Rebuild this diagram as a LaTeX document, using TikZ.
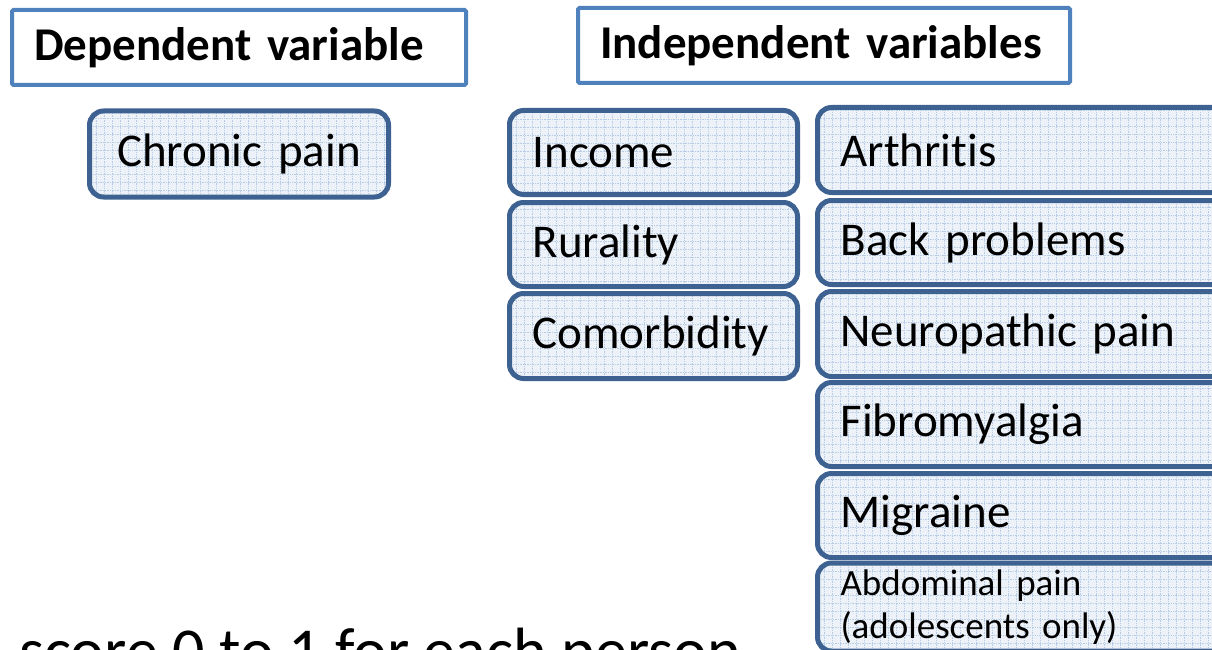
\documentclass[tikz,border=0pt]{standalone}
\usepackage{fontspec}
\setmainfont{Carlito}[Ligatures={NoCommon}]
\usepackage{tikz}
\usepackage{xcolor}
\definecolor{headblue}{HTML}{4F81BD}
\definecolor{boxblue}{HTML}{3D6291}
\definecolor{boxfill}{HTML}{EDF2F8}
\definecolor{gridblue}{HTML}{B9CCE6}
\tikzset{
  headbox/.style={draw=headblue, line width=4pt, rounded corners=1.5pt, fill=white,
    inner sep=0pt, inner xsep=22pt, align=left, font=\bfseries\fontsize{47}{56}\selectfont},
  varbox/.style={draw=boxblue, line width=5pt, rounded corners=14pt, fill=boxfill,
    inner sep=0pt, inner xsep=23pt, align=left, font=\fontsize{47}{56}\selectfont,
    path picture={\draw[gridblue, line width=0.7pt, densely dotted]
      (path picture bounding box.south west) grid[step=8pt] (path picture bounding box.north east);}},
}

\begin{document}
\begin{tikzpicture}[x=1pt, y=-1pt]
  \path[use as bounding box, clip] (0,0) rectangle (1212,650);
  % headings
  \node[headbox, minimum width=454pt, minimum height=75pt, text width=410pt] (dephead) at (239,47.5) {Dependent variable};
  \node[headbox, minimum width=492pt, minimum height=75pt, text width=448pt] (indhead) at (824,45.5) {Independent variables};
  % dependent variable
  \node[varbox, minimum width=299pt, minimum height=86pt, text width=253pt, align=center] (chronic) at (239,154) {Chronic pain};
  % independent variables, first column
  \node[varbox, minimum width=288pt, minimum height=84pt, text width=242pt] (income) at (653.5,152.5) {Income};
  \node[varbox, minimum width=288pt, minimum height=84pt, text width=242pt] (rural) at (653.5,244.5) {Rurality};
  \node[varbox, minimum width=288pt, minimum height=85pt, text width=242pt] (comorb) at (653.5,336) {Comorbidity};
  % independent variables, second column
  \node[varbox, minimum width=410pt, minimum height=85pt, text width=364pt] (arthritis) at (1022.5,150) {Arthritis};
  \node[varbox, minimum width=410pt, minimum height=84pt, text width=364pt] (back) at (1022.5,242.5) {Back problems};
  \node[varbox, minimum width=410pt, minimum height=85pt, text width=364pt] (neuro) at (1022.5,334) {Neuropathic pain};
  \node[varbox, minimum width=410pt, minimum height=84pt, text width=364pt] (fibro) at (1022.5,424.5) {Fibromyalgia};
  \node[varbox, minimum width=410pt, minimum height=84pt, text width=364pt] (migraine) at (1022.5,515.5) {Migraine};
  \node[varbox, minimum width=410pt, minimum height=88pt, text width=364pt,
    font=\fontsize{37}{43}\selectfont] (abdominal) at (1022.5,607) {Abdominal pain\\(adolescents only)};
  % score line, cut at the bottom
  \node[anchor=base west, inner sep=0pt, font=\fontsize{64}{70}\selectfont] (score) at (19,672) {score 0 to 1 for each person};
\end{tikzpicture}
\end{document}
